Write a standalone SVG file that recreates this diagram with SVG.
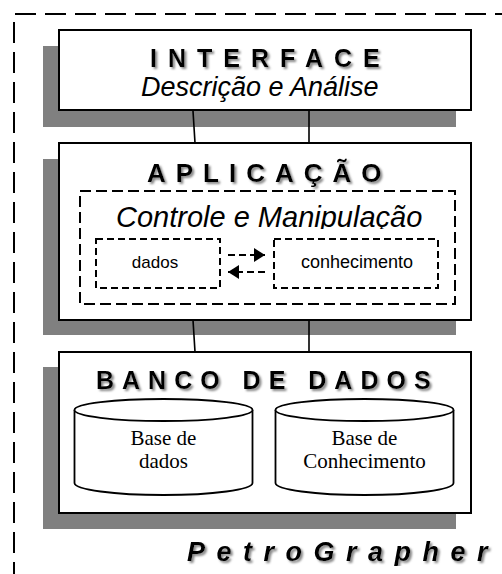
<svg xmlns="http://www.w3.org/2000/svg" width="502" height="574" viewBox="0 0 502 574">
<style>
  .shadow { fill: #808080; stroke: none; }
  .box { fill: #ffffff; stroke: #000; stroke-width: 2; }
  .outer { fill: none; stroke: #000; stroke-width: 2; stroke-dasharray: 21 9; }
  .dash1 { fill: none; stroke: #000; stroke-width: 2; stroke-dasharray: 11 5; }
  .dash2 { fill: none; stroke: #000; stroke-width: 2; stroke-dasharray: 7 4; }
  .conn { stroke: #000; stroke-width: 1.6; fill: none; }
  .title { font-family: "Liberation Sans", Arial, sans-serif; font-weight: bold; fill: #000; filter: url(#ts); }
  .ital { font-family: "Liberation Sans", Arial, sans-serif; font-style: italic; fill: #000; }
  .sans { font-family: "Liberation Sans", Arial, sans-serif; fill: #000; }
  .serif { font-family: "Liberation Serif", "Times New Roman", serif; fill: #000; font-size: 21px; text-anchor: middle; }
  .cyl { fill: #fff; stroke: #000; stroke-width: 1.8; }
</style>
<defs>
  <filter id="ts" x="-5%" y="-20%" width="115%" height="150%">
    <feDropShadow dx="2" dy="2" stdDeviation="0.8" flood-color="#888888" flood-opacity="1"/>
  </filter>
  <clipPath id="clipCtrl"><rect x="80" y="190" width="380" height="39"/></clipPath>
  <clipPath id="clipPG"><rect x="150" y="530" width="352" height="36"/></clipPath>
  <marker id="ah" viewBox="0 0 10 10" refX="10" refY="5" markerWidth="11" markerHeight="14" markerUnits="userSpaceOnUse" orient="auto" preserveAspectRatio="none">
    <path d="M0,0 L10,5 L0,10 Z" fill="#000"/>
  </marker>
</defs>

<g id="outer-frame">
  <line class="outer" x1="15" y1="14" x2="502" y2="14"/>
  <line class="outer" x1="14" y1="22" x2="14" y2="574"/>
</g>

<g id="interface">
  <rect class="shadow" x="43" y="46" width="413" height="81"/>
  <rect class="box" x="59" y="30" width="412" height="80"/>
  <text class="title" x="150" y="67" font-size="25" letter-spacing="11">INTERFACE</text>
  <text class="ital" x="141" y="96" font-size="27">Descrição e Análise</text>
</g>

<g id="aplicacao">
  <rect class="shadow" x="43" y="159" width="413" height="176"/>
  <rect class="box" x="59" y="143" width="412" height="177"/>
  <text class="title" x="147" y="182" font-size="26" letter-spacing="10">APLICAÇÃO</text>
  <g id="controle">
    <rect class="dash1" x="80" y="191" width="375" height="113"/>
    <text class="ital" x="116" y="227" font-size="29" clip-path="url(#clipCtrl)">Controle e Manipulação</text>
  </g>
  <g id="dados">
    <rect class="dash2" x="96" y="239" width="124" height="49"/>
    <text class="sans" x="155" y="268" font-size="17" text-anchor="middle">dados</text>
  </g>
  <g id="conhecimento">
    <rect class="dash2" x="274" y="239" width="164" height="49"/>
    <text class="sans" x="357" y="268" font-size="18" text-anchor="middle">conhecimento</text>
  </g>
</g>

<g id="banco">
  <rect class="shadow" x="43" y="367" width="413" height="162"/>
  <rect class="box" x="59" y="352" width="412" height="161"/>
  <text class="title" x="96" y="389" font-size="25" letter-spacing="8">BANCO DE DADOS</text>
  <g id="base-dados">
    <path class="cyl" d="M74.5,410 L74.5,483 A89,12 0 0 0 252.5,483 L252.5,410"/>
    <ellipse class="cyl" cx="163.5" cy="410" rx="89" ry="11"/>
    <text class="serif" x="163.5" y="445">Base de</text>
    <text class="serif" x="163.5" y="468">dados</text>
  </g>
  <g id="base-conhecimento">
    <path class="cyl" d="M275.5,410 L275.5,483 A89,12 0 0 0 453.5,483 L453.5,410"/>
    <ellipse class="cyl" cx="364.5" cy="410" rx="89" ry="11"/>
    <text class="serif" x="364.5" y="445">Base de</text>
    <text class="serif" x="364.5" y="468">Conhecimento</text>
  </g>
</g>

<g id="connectors">
  <line class="conn" x1="193" y1="111" x2="195" y2="143"/>
  <line class="conn" x1="309" y1="111" x2="309" y2="143"/>
  <line class="conn" x1="193" y1="320" x2="195" y2="352"/>
  <line class="conn" x1="309" y1="320" x2="309" y2="352"/>
  <line class="dash2" x1="228" y1="255" x2="265" y2="255" stroke-dasharray="6 3" marker-end="url(#ah)"/>
  <line class="dash2" x1="265" y1="272" x2="228" y2="272" stroke-dasharray="6 3" marker-end="url(#ah)"/>
</g>

<g id="petrographer">
  <text class="title" x="187" y="561" font-size="27" font-style="italic" letter-spacing="11.5" clip-path="url(#clipPG)">PetroGrapher</text>
</g>
</svg>
